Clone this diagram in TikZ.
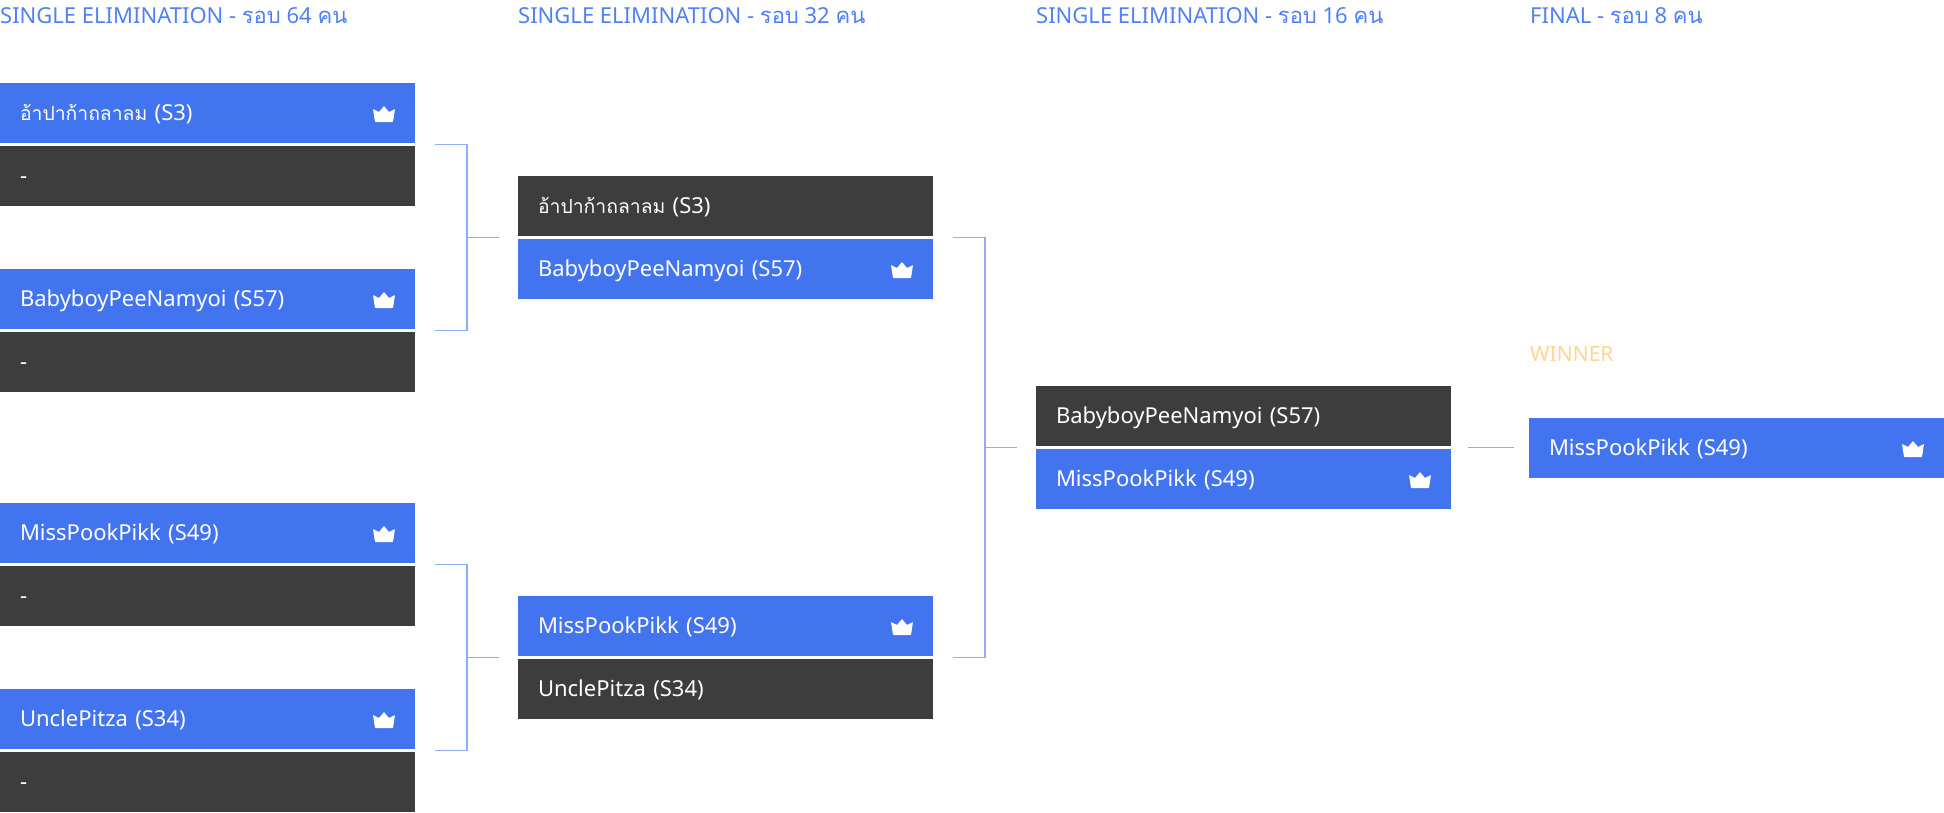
\documentclass[tikz,border=0pt]{standalone}
\usepackage{fontspec}
\setmainfont{Noto Sans}
\newfontfamily\thaifont[Script=Thai]{Loma}
\newfontfamily\thairow[Script=Thai,Scale=0.88]{Loma}
\usepackage{xcolor}
\usetikzlibrary{positioning}

\definecolor{winblue}{HTML}{4274EF}
\definecolor{losegray}{HTML}{3D3D3D}
\definecolor{linkblue}{HTML}{8FADF5}
\definecolor{headblue}{HTML}{4F80F5}
\definecolor{winnergold}{HTML}{FFD596}

\begin{document}
\begin{tikzpicture}[
  x=1pt, y=1pt,
  slot/.style = {
    fill=#1, text=white, anchor=north west, outer sep=0pt,
    minimum width=415pt, minimum height=60pt, text width=375pt,
    text height=19pt, text depth=4pt,
    inner xsep=20pt, inner ysep=0pt, align=left,
    font=\fontsize{22}{26}\selectfont
  },
  head/.style = {anchor=west, inner sep=0pt, text=headblue, font=\fontsize{22}{26}\selectfont},
  link/.style = {draw=linkblue, line width=1.3pt},
  crown/.pic = {
    \fill[white, rounded corners=0.6pt] (-11,5) -- (-5,2) -- (0,8) -- (5,2) -- (11,5)
      -- (9,-8) -- (-9,-8) -- cycle;
  },
  node distance = 3pt
]

\useasboundingbox (0,0) rectangle (1944,-812);

% headers
\node[head] (H1) at (0,-16) {SINGLE ELIMINATION - {\thaifont รอบ} 64 {\thaifont คน}};
\node[head] (H2) at (518,-16) {SINGLE ELIMINATION - {\thaifont รอบ} 32 {\thaifont คน}};
\node[head] (H3) at (1036,-16) {SINGLE ELIMINATION - {\thaifont รอบ} 16 {\thaifont คน}};
\node[head] (H4) at (1530,-16) {FINAL - {\thaifont รอบ} 8 {\thaifont คน}};

% round of 64
\node[slot=winblue] (A1) at (0,-83) {{\thairow อ้าปาก้าถลาลม} (S3)};
\node[slot=losegray, below=of A1.south west, anchor=north west] (A2) {-};
\node[slot=winblue] (A3) at (0,-269) {BabyboyPeeNamyoi (S57)};
\node[slot=losegray, below=of A3.south west, anchor=north west] (A4) {-};
\node[slot=winblue] (A5) at (0,-503) {MissPookPikk (S49)};
\node[slot=losegray, below=of A5.south west, anchor=north west] (A6) {-};
\node[slot=winblue] (A7) at (0,-689) {UnclePitza (S34)};
\node[slot=losegray, below=of A7.south west, anchor=north west] (A8) {-};

% round of 32
\node[slot=losegray] (B1) at (518,-176) {{\thairow อ้าปาก้าถลาลม} (S3)};
\node[slot=winblue, below=of B1.south west, anchor=north west] (B2) {BabyboyPeeNamyoi (S57)};
\node[slot=winblue] (B3) at (518,-596) {MissPookPikk (S49)};
\node[slot=losegray, below=of B3.south west, anchor=north west] (B4) {UnclePitza (S34)};

% round of 16
\node[slot=losegray] (C1) at (1036,-386) {BabyboyPeeNamyoi (S57)};
\node[slot=winblue, below=of C1.south west, anchor=north west] (C2) {MissPookPikk (S49)};

% final
\node[head, text=winnergold, font=\fontsize{21}{25}\selectfont\bfseries] (W) at (1530,-354) {WINNER};
\node[slot=winblue] (D1) at (1529,-418) {MissPookPikk (S49)};

% crowns
\foreach \n in {A1,A3,A5,A7,B2,B3,C2,D1}
  \pic at ([xshift=-31pt,yshift=-1pt]\n.east) {crown};

% brackets
\draw[link] ([xshift=20pt,yshift=-1.5pt]A1.south east) -- ++(32,0) |- ([xshift=20pt,yshift=-1.5pt]A3.south east);
\draw[link] ([xshift=-19pt,yshift=-1.5pt]B1.south west) -- ++(-32,0);
\draw[link] ([xshift=20pt,yshift=-1.5pt]A5.south east) -- ++(32,0) |- ([xshift=20pt,yshift=-1.5pt]A7.south east);
\draw[link] ([xshift=-19pt,yshift=-1.5pt]B3.south west) -- ++(-32,0);
\draw[link] ([xshift=20pt,yshift=-1.5pt]B1.south east) -- ++(32,0) |- ([xshift=20pt,yshift=-1.5pt]B3.south east);
\draw[link] ([xshift=-19pt,yshift=-1.5pt]C1.south west) -- ++(-32,0);
\draw[link] ([xshift=17pt,yshift=-1.5pt]C1.south east) -- ([xshift=-15pt,yshift=-1.5pt]C1.south east -| D1.west);

\end{tikzpicture}
\end{document}
